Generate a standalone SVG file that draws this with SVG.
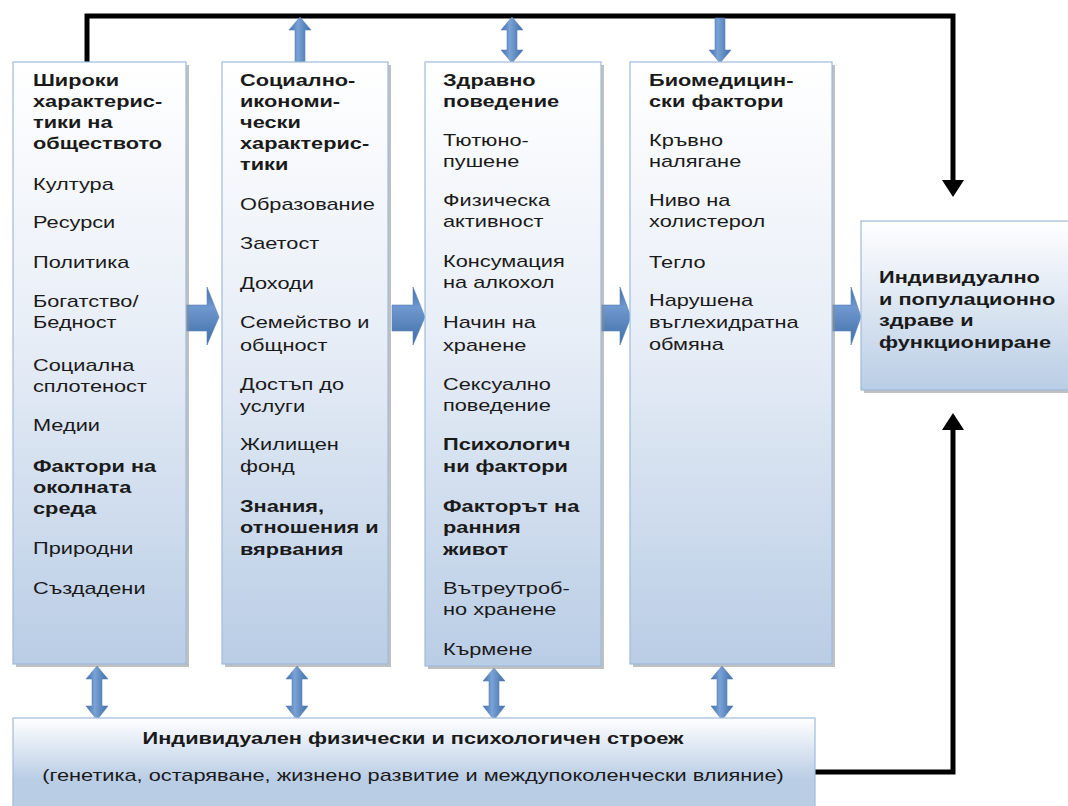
<svg xmlns="http://www.w3.org/2000/svg" width="1068" height="806" viewBox="0 0 1068 806">
<defs>
<linearGradient id="gCol" x1="0" y1="0" x2="0" y2="1">
<stop offset="0" stop-color="#ffffff"/>
<stop offset="0.45" stop-color="#e8eef7"/>
<stop offset="1" stop-color="#b9cde5"/>
</linearGradient>
<linearGradient id="gBox" x1="0" y1="0" x2="0" y2="1">
<stop offset="0" stop-color="#ffffff"/>
<stop offset="1" stop-color="#b9cde5"/>
</linearGradient>
<linearGradient id="gBot" x1="0" y1="0" x2="0" y2="1">
<stop offset="0" stop-color="#ffffff"/>
<stop offset="0.65" stop-color="#b9cde5"/>
<stop offset="1" stop-color="#b9cde5"/>
</linearGradient>
<linearGradient id="gArrH" x1="0" y1="0" x2="0" y2="1">
<stop offset="0" stop-color="#3f6fa8"/>
<stop offset="0.35" stop-color="#6f98cf"/>
<stop offset="1" stop-color="#3e6da6"/>
</linearGradient>
<linearGradient id="gArrV" x1="0" y1="0" x2="1" y2="0">
<stop offset="0" stop-color="#3f6fa8"/>
<stop offset="0.4" stop-color="#7aa2d6"/>
<stop offset="1" stop-color="#3e6da6"/>
</linearGradient>
</defs>
<style>
.box{stroke:#9fbbdc;stroke-width:1.2}
.sh{fill:#8c8c8c;opacity:0.55}
text{font-family:"Liberation Sans",Arial,sans-serif;font-size:17px;fill:#1a1a1a}
.b{font-weight:bold}
.wire{fill:none;stroke:#000;stroke-width:5}
.ha{fill:url(#gArrH);stroke:#5a83b8;stroke-width:0.6}
.va{fill:url(#gArrV);stroke:#5a83b8;stroke-width:0.6}
</style>
<rect width="1068" height="806" fill="#ffffff"/>

<g id="connectors">
<polyline class="wire" points="87,62 87,16 953,16 953,182"/>
<polygon points="942,180 964,180 953,197" fill="#000"/>
<polyline class="wire" points="815,772 953,772 953,428"/>
<polygon points="942,430 964,430 953,413" fill="#000"/>
<polygon class="ha" points="186,305 207,305 207,287 219,317 207,345 207,331 186,331"/>
<polygon class="ha" points="392,305 413,305 413,287 425,317 413,345 413,331 392,331"/>
<polygon class="ha" points="601,305 620,305 620,287 631,317 620,345 620,331 601,331"/>
<polygon class="ha" points="832,305 851,305 851,287 861,317 851,345 851,331 832,331"/>
<polygon class="va" points="295,62 305,62 305,30 311,30 300,17 289,30 295,30"/>
<polygon class="va" points="507,50 501,50 512,63 523,50 517,50 517,30 523,30 512,17 501,30 507,30"/>
<polygon class="va" points="715,18 725,18 725,50 731,50 720,63 709,50 715,50"/>
<polygon class="va" points="92,706 86,706 97,720 108,706 102,706 102,679 108,679 97,666 86,679 92,679"/>
<polygon class="va" points="292,706 286,706 297,720 308,706 302,706 302,679 308,679 297,666 286,679 292,679"/>
<polygon class="va" points="489,706 483,706 494,720 505,706 499,706 499,681 505,681 494,668 483,681 489,681"/>
<polygon class="va" points="717,706 711,706 722,720 733,706 727,706 727,679 733,679 722,666 711,679 717,679"/>
</g>

<g id="col1">
<rect class="sh" x="16" y="65" width="173" height="602"/>
<rect class="box" x="13" y="62" width="173" height="602" fill="url(#gCol)"/>
<g transform="translate(33 0) scale(1.28 1)">
<text class="b" y="86">Широки</text>
<text class="b" y="107">характерис-</text>
<text class="b" y="128">тики на</text>
<text class="b" y="149">обществото</text>
<text y="190">Култура</text>
<text y="228">Ресурси</text>
<text y="268">Политика</text>
<text y="307">Богатство/</text>
<text y="328">Бедност</text>
<text y="371">Социална</text>
<text y="392">сплотеност</text>
<text y="431">Медии</text>
<text class="b" y="472">Фактори на</text>
<text class="b" y="493">околната</text>
<text class="b" y="514">среда</text>
<text y="554">Природни</text>
<text y="594">Създадени</text>
</g>
</g>

<g id="col2">
<rect class="sh" x="225" y="65" width="166" height="602"/>
<rect class="box" x="222" y="62" width="166" height="602" fill="url(#gCol)"/>
<g transform="translate(240 0) scale(1.28 1)">
<text class="b" y="86">Социално-</text>
<text class="b" y="107">икономи-</text>
<text class="b" y="128">чески</text>
<text class="b" y="149">характерис-</text>
<text class="b" y="170">тики</text>
<text y="210">Образование</text>
<text y="249">Заетост</text>
<text y="289">Доходи</text>
<text y="328">Семейство и</text>
<text y="351">общност</text>
<text y="390">Достъп до</text>
<text y="412">услуги</text>
<text y="450">Жилищен</text>
<text y="472">фонд</text>
<text class="b" y="512">Знания,</text>
<text class="b" y="533">отношения и</text>
<text class="b" y="555">вярвания</text>
</g>
</g>

<g id="col3">
<rect class="sh" x="428" y="65" width="176" height="604"/>
<rect class="box" x="425" y="62" width="176" height="604" fill="url(#gCol)"/>
<g transform="translate(443 0) scale(1.28 1)">
<text class="b" y="86">Здравно</text>
<text class="b" y="107">поведение</text>
<text y="146">Тютюно-</text>
<text y="167">пушене</text>
<text y="206">Физическа</text>
<text y="227">активност</text>
<text y="267">Консумация</text>
<text y="288">на алкохол</text>
<text y="328">Начин на</text>
<text y="351">хранене</text>
<text y="390">Сексуално</text>
<text y="411">поведение</text>
<text class="b" y="450">Психологич</text>
<text class="b" y="472">ни фактори</text>
<text class="b" y="512">Факторът на</text>
<text class="b" y="533">ранния</text>
<text class="b" y="555">живот</text>
<text y="594">Вътреутроб-</text>
<text y="615">но хранене</text>
<text y="655">Кърмене</text>
</g>
</g>

<g id="col4">
<rect class="sh" x="633" y="65" width="202" height="602"/>
<rect class="box" x="630" y="62" width="202" height="602" fill="url(#gCol)"/>
<g transform="translate(649 0) scale(1.28 1)">
<text class="b" y="86">Биомедицин-</text>
<text class="b" y="107">ски фактори</text>
<text y="146">Кръвно</text>
<text y="167">налягане</text>
<text y="206">Ниво на</text>
<text y="227">холистерол</text>
<text y="268">Тегло</text>
<text y="306">Нарушена</text>
<text y="328">въглехидратна</text>
<text y="350">обмяна</text>
</g>
</g>

<g id="outcome">
<rect class="sh" x="864" y="224" width="210" height="169"/>
<rect class="box" x="861" y="221" width="212" height="169" fill="url(#gBox)"/>
<g transform="translate(879 0) scale(1.28 1)">
<text class="b" y="283">Индивидуално</text>
<text class="b" y="305">и популационно</text>
<text class="b" y="326">здраве и</text>
<text class="b" y="348">функциониране</text>
</g>
</g>

<g id="constitution">
<rect class="box" x="13" y="718" width="802" height="95" fill="url(#gBot)"/>
<g transform="translate(413 0) scale(1.28 1)">
<text class="b" y="744" text-anchor="middle">Индивидуален физически и психологичен строеж</text>
<text y="781" text-anchor="middle">(генетика, остаряване, жизнено развитие и междупоколенчески влияние)</text>
</g>
</g>
</svg>
